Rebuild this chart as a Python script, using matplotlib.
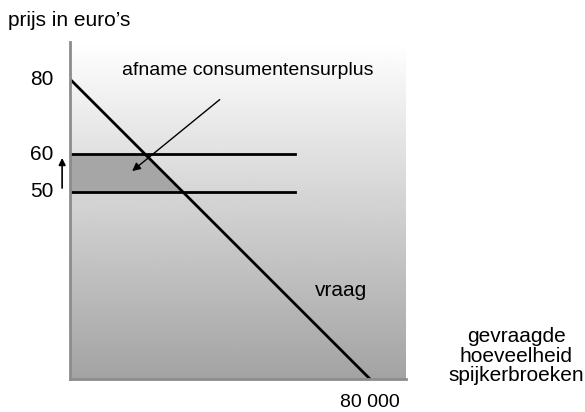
"""
Afname consumentensurplus bij prijsstijging van 50 naar 60 euro
"""
# Third party
import matplotlib.pyplot as plt
import numpy as np
#
plt.rcParams["font.family"] = ["Liberation Sans", "DejaVu Sans"]

# data (hoeveelheid in duizenden)
demand_q = [0, 80]
demand_p = [80, 0]
old_price = 50
new_price = 60
price_line_end = 60
price_ticks = [80, 60, 50]

LINE_COLOR: str = "black"
AXIS_COLOR: str = "#8c8c8c"
SHADE_COLOR: str = "#a6a6a6"
FONT_SIZE: int = 15


def main() -> None:
    fig = plt.figure(figsize=(5.85, 4.12), dpi=100)
    ax = fig.add_axes([70 / 585, 1 - 379 / 412, 336 / 585, 337 / 412])
    ax.set_xlim(0, 89.6)
    ax.set_ylim(0, 89.9)

    # background gradient, white on top to grey at the bottom
    grad = np.linspace(0.64, 1.0, 256).reshape(-1, 1)
    ax.imshow(grad, extent=(0, 89.6, 0, 89.9), origin="lower", cmap="gray",
              vmin=0, vmax=1, aspect="auto", zorder=0)

    # surplus loss
    ys = np.array([old_price, new_price])
    ax.fill_betweenx(ys, 0, np.interp(ys, demand_p[::-1], demand_q[::-1]),
                     color=SHADE_COLOR, zorder=1, lw=0)

    ax.plot(demand_q, demand_p, color=LINE_COLOR, lw=2, zorder=3,
            solid_capstyle="butt")
    for p in (new_price, old_price):
        ax.plot([0, price_line_end], [p, p], color=LINE_COLOR, lw=2, zorder=3)

    for spine in ("top", "right"):
        ax.spines[spine].set_visible(False)
    for spine in ("left", "bottom"):
        ax.spines[spine].set_color(AXIS_COLOR)
        ax.spines[spine].set_linewidth(2)
        ax.spines[spine].set_zorder(4)
    ax.set_xticks([])
    ax.set_yticks([])

    for p in price_ticks:
        ax.text(-4.5, p, str(p), ha="right", va="center", fontsize=FONT_SIZE)
    ax.text(80, -6.4, "80 000", ha="center", va="center", fontsize=14)

    ax.annotate("", xy=(16, 55), xytext=(40.5, 75),
                arrowprops=dict(arrowstyle="-|>", color=LINE_COLOR, lw=1,
                                mutation_scale=12), zorder=5)
    ax.annotate("", xy=(-2.1, 59.7), xytext=(-2.1, 50.2),
                arrowprops=dict(arrowstyle="-|>", color=LINE_COLOR, lw=1.2,
                                mutation_scale=10), annotation_clip=False)

    ax.text(47.5, 82.3, "afname consumentensurplus", ha="center",
            va="center", fontsize=14)
    ax.text(72.3, 23.5, "vraag", ha="center", va="center", fontsize=FONT_SIZE)

    fig.text(8 / 585, 1 - 21 / 412, "prijs in euro\u2019s", ha="left",
             va="center", fontsize=FONT_SIZE)
    fig.text(516 / 585, 1 - 356 / 412,
             "gevraagde\nhoeveelheid\nspijkerbroeken", ha="center",
             va="center", fontsize=FONT_SIZE, linespacing=1.05)

    fig.savefig("out.png", dpi=100)


if __name__ == "__main__":
    main()
